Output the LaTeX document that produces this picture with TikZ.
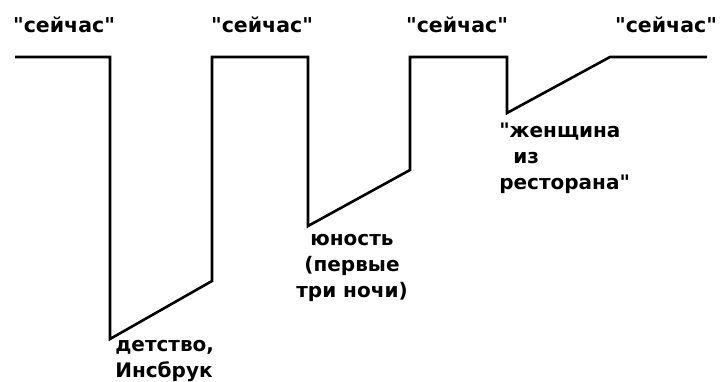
\documentclass[tikz,border=0pt]{standalone}
\usepackage{fontspec}
\setmainfont{DejaVu Sans}[Ligatures=TeXOff]
\usetikzlibrary{positioning}

\tikzset{
  nowlabel/.style={inner sep=0pt, font=\fontsize{20.5}{25}\selectfont\bfseries},
  memlabel/.style={inner sep=0pt, font=\fontsize{20}{26}\selectfont\bfseries}
}

\begin{document}
\begin{tikzpicture}[x=1pt, y=-1pt, line width=2.6pt, line join=miter]
\useasboundingbox (0,0) rectangle (720,382);

% Timeline
\draw (15,57) -- (110,57) -- (110,339) -- (212,281) -- (212,57)
  -- (308,57) -- (308,226) -- (410,170) -- (410,57)
  -- (507,57) -- (507,113) -- (610,57) -- (707,57);

% "Now" labels
\node[nowlabel] (now1) at (64,25) {"сейчас"};
\node[nowlabel] (now2) at (262,25) {"сейчас"};
\node[nowlabel] (now3) at (457,25) {"сейчас"};
\node[nowlabel] (now4) at (666,25) {"сейчас"};

% Memories (base anchor sits on the last line)
\node[memlabel, anchor=base west, align=left] (child) at (114,377)
  {детство,\\Инсбрук};
\node[memlabel, anchor=base, align=center] (youth) at (352,297)
  {юность\\(первые\\три ночи)};
\node[memlabel, anchor=base west, align=left] (woman) at (498,190)
  {"женщина\\\hspace{0.7em}из\\ресторана"};
\end{tikzpicture}
\end{document}
